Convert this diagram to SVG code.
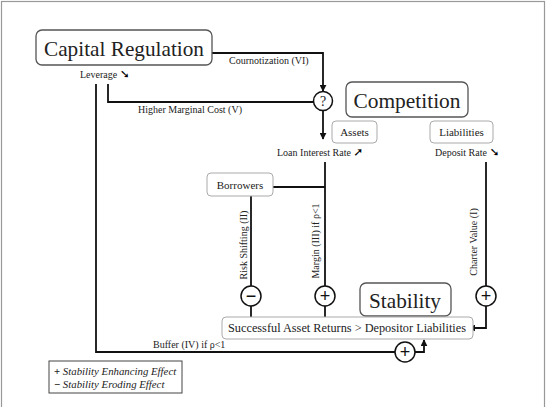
<svg xmlns="http://www.w3.org/2000/svg" width="546" height="407" viewBox="0 0 546 407">
<style>
.t{font-family:'Liberation Serif','DejaVu Serif',serif;fill:#222}
.big{font-size:22px}
.sm{font-size:10px}
.md{font-size:11px}
.ar{font-family:'DejaVu Sans',sans-serif;font-size:12px;font-weight:bold;fill:#000}
.bx{fill:#fff;stroke:#555;stroke-width:1.3}
.lb{fill:#fff;stroke:#aaa;stroke-width:1}
.ln{fill:none;stroke:#111;stroke-width:1.8}
.cr{fill:#fff;stroke:#111;stroke-width:1.5}
.sg{font-family:'Liberation Sans',Arial,sans-serif;font-size:18px;fill:#111;text-anchor:middle}
</style>
<defs>
<marker id="ah" viewBox="0 0 10 10" refX="9" refY="5" markerUnits="userSpaceOnUse" markerWidth="7" markerHeight="7" orient="auto">
<path d="M0,0 L10,5 L0,10 z" fill="#111"/>
</marker>
</defs>
<rect x="1.5" y="1.5" width="543" height="410" fill="#fff" stroke="#999" stroke-width="1.2"/>

<g id="connectors">
<path class="ln" d="M212,53 H323 V91" marker-end="url(#ah)"/>
<path class="ln" d="M108,84 V102 H314"/>
<path class="ln" d="M323,110 V139" marker-end="url(#ah)"/>
<path class="ln" d="M96,84 V352 H395"/>
<path class="ln" d="M415,352 H424 V340" marker-end="url(#ah)"/>
<path class="ln" d="M325,162 V286"/>
<path class="ln" d="M273,187 H325"/>
<path class="ln" d="M251,196 V286"/>
<path class="ln" d="M251,306 V325" marker-end="url(#ah)"/>
<path class="ln" d="M325,306 V325" marker-end="url(#ah)"/>
<path class="ln" d="M486,162 V286"/>
<path class="ln" d="M486,306 V328 H469" marker-end="url(#ah)"/>
<text class="t sm" x="229" y="64">Cournotization (VI)</text>
<text class="t sm" x="138" y="113">Higher Marginal Cost  (V)</text>
<text class="t sm" x="153" y="348">Buffer (IV) if ρ&lt;1</text>
<text class="t sm" transform="translate(247,245) rotate(-90)" text-anchor="middle">Risk Shifting (II)</text>
<text class="t sm" transform="translate(319,241) rotate(-90)" text-anchor="middle">Margin (III) if ρ&lt;1</text>
<text class="t sm" transform="translate(477,242) rotate(-90)" text-anchor="middle">Charter Value  (I)</text>
</g>

<g id="capital-regulation">
<rect class="bx" x="36" y="30" width="176" height="35" rx="6"/>
<text class="t big" x="124" y="56" text-anchor="middle" textLength="160" lengthAdjust="spacingAndGlyphs">Capital Regulation</text>
<text class="t sm" x="80" y="78">Leverage <tspan class="ar">➘</tspan></text>
</g>

<g id="question">
<circle class="cr" cx="323" cy="101" r="9.5"/>
<text class="t" x="323" y="106" font-size="14" text-anchor="middle">?</text>
</g>

<g id="competition">
<rect class="bx" x="346" y="82" width="122" height="35" rx="6"/>
<text class="t big" x="407" y="108" text-anchor="middle" textLength="107" lengthAdjust="spacingAndGlyphs">Competition</text>
</g>

<g id="assets">
<rect class="lb" x="332" y="121" width="45" height="22" rx="4"/>
<text class="t md" x="354.5" y="136" text-anchor="middle">Assets</text>
<text class="t sm" x="277" y="156">Loan Interest Rate <tspan class="ar">➚</tspan></text>
</g>

<g id="liabilities">
<rect class="lb" x="430" y="121" width="63" height="22" rx="4"/>
<text class="t md" x="461.5" y="136" text-anchor="middle">Liabilities</text>
<text class="t sm" x="435" y="156">Deposit Rate <tspan class="ar">➘</tspan></text>
</g>

<g id="borrowers">
<rect class="lb" x="207" y="173" width="66" height="23" rx="4"/>
<text class="t md" x="240" y="189" text-anchor="middle">Borrowers</text>
</g>

<g id="risk-minus">
<circle class="cr" cx="251" cy="296" r="10"/>
<text class="sg" x="251" y="302">−</text>
</g>
<g id="margin-plus">
<circle class="cr" cx="325" cy="296" r="10"/>
<text class="sg" x="325" y="302">+</text>
</g>
<g id="charter-plus">
<circle class="cr" cx="486" cy="296" r="10"/>
<text class="sg" x="486" y="302">+</text>
</g>
<g id="buffer-plus">
<circle class="cr" cx="405" cy="352" r="10"/>
<text class="sg" x="405" y="358">+</text>
</g>

<g id="stability">
<rect class="bx" x="360" y="283" width="91" height="33" rx="6"/>
<text class="t" x="405" y="308" font-size="21" text-anchor="middle" textLength="72" lengthAdjust="spacingAndGlyphs">Stability</text>
</g>

<g id="successful">
<rect class="lb" x="222" y="317" width="251" height="22" rx="4"/>
<text class="t" x="228" y="332" font-size="12" textLength="238" lengthAdjust="spacingAndGlyphs">Successful Asset Returns &gt; Depositor Liabilities</text>
</g>

<g id="legend">
<rect x="49" y="361" width="133" height="32" fill="#fff" stroke="#444" stroke-width="1"/>
<text class="t" x="54" y="375" font-size="10.8"><tspan font-weight="bold">+</tspan> <tspan font-style="italic">Stability Enhancing Effect</tspan></text>
<text class="t" x="54" y="388" font-size="10.8"><tspan font-weight="bold">−</tspan> <tspan font-style="italic">Stability Eroding Effect</tspan></text>
</g>
</svg>
